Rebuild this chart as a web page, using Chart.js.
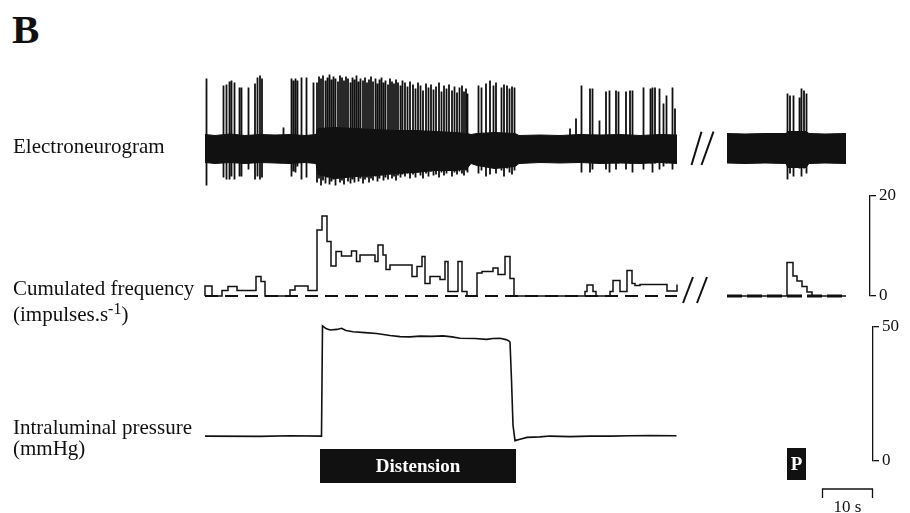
<!DOCTYPE html>
<html><head><meta charset="utf-8">
<script src="https://cdn.jsdelivr.net/npm/chart.js@4.4.1/dist/chart.umd.min.js"></script>
<style>
html,body{margin:0;padding:0;background:#fff;}
#wrap{position:relative;width:910px;height:513px;overflow:hidden;background:#fff;font-family:'Liberation Serif','Times New Roman',serif;color:#111;}
canvas{position:absolute;left:0;}
.lbl{position:absolute;left:13px;font-size:21px;line-height:21px;white-space:nowrap;}
sup{font-size:16px;line-height:0;vertical-align:7px;}
</style></head><body>
<div id="wrap">
<canvas id="cNeuro" width="910" height="145" style="top:60px"></canvas>
<canvas id="cFreq" width="910" height="135" style="top:180px"></canvas>
<canvas id="cPress" width="910" height="203" style="top:310px"></canvas>
<div class="lbl" style="top:9px;left:12px;font-size:41px;line-height:40px;font-weight:bold">B</div>
<div class="lbl" style="top:136px">Electroneurogram</div>
<div class="lbl" style="top:278px">Cumulated frequency</div>
<div class="lbl" style="top:304px">(impulses.s<sup>-1</sup>)</div>
<div class="lbl" style="top:417px">Intraluminal pressure</div>
<div class="lbl" style="top:438px">(mmHg)</div>
</div>
<script>
// ---------------- DATA (time in s) ----------------
// Electroneurogram: background noise band envelope (arbitrary units)
const bandTime1  = [0, 2, 5, 8, 11, 14, 17, 20, 22.2, 22.6, 26, 30, 34, 38, 42, 46, 50, 52.4, 53.2, 54.4, 58, 62.0, 62.8, 67, 71, 75, 79, 83, 87, 91, 94.4];
const bandUpper1 = [14, 13, 14.5, 13, 14, 13.5, 14, 13, 14, 20, 21, 20, 19, 18, 18, 17, 16, 15, 14, 15, 16, 15, 13, 13.5, 13, 14, 13.5, 14, 13, 14, 13.5];
const bandLower1 = [-14, -15, -14, -15, -14, -14.5, -15, -14, -15, -26, -30, -28, -27, -25, -24, -22, -22, -20, -15, -17, -20, -18, -15, -14, -14.5, -14, -15, -14.5, -15, -14, -15];
const bandTime2  = [104.4, 108, 112, 116.2, 116.6, 120.2, 120.8, 124, 128.2];
const bandUpper2 = [15, 14.5, 15, 15, 17, 17, 15, 14.5, 15];
const bandLower2 = [-14.5, -15, -14.5, -15, -19, -19, -15, -14.5, -15];

// Electroneurogram: individual action potentials (time, positive peak, negative peak)
const spikeTimes = [
  0.3, 3.7, 4.3, 4.9, 5.3, 5.9, 6.9, 7.3, 8.7, 10.0, 10.5, 11.0, 11.4, 15.7, 17.3, 17.7, 18.1, 18.5, 19.3, 20.3, 21.7,
  22.4, 22.8, 23.2, 23.6, 24.1, 24.5, 24.9, 25.3, 25.7, 26.1, 26.6, 27.0, 27.4, 27.8, 28.2, 28.6, 29.1, 29.5, 29.9, 30.3, 30.7,
  31.1, 31.6, 32.0, 32.4, 32.8, 33.2, 33.6, 34.1, 34.5, 34.9, 35.3, 35.7, 36.1, 36.6, 37.0, 37.4, 37.8, 38.2, 38.6, 39.1, 39.5,
  40.0, 40.5, 41.0, 41.6, 42.1, 42.6, 43.1, 43.6, 44.2, 44.7, 45.2, 45.7, 46.2, 46.8, 47.3, 47.8, 48.3, 48.8, 49.4, 49.9, 50.4,
  50.9, 51.4, 51.8, 52.2, 52.5,
  54.7, 55.3, 56.2, 57.0, 57.7, 58.2, 59.3, 59.8, 60.4, 60.9, 61.4, 61.9,
  73.0, 74.2, 75.3, 77.0, 77.5, 78.9, 80.2, 80.9, 82.2, 82.7, 84.2, 85.0, 85.5, 87.7, 89.1, 89.5, 90.0, 90.9, 91.7, 92.3, 93.5, 94.0,
  116.5, 117.0, 117.7, 118.9, 119.3, 119.8, 120.3];
const spikeTops = [
  70, 63, 64, 67, 68, 66, 61, 61, 61, 65, 71, 73, 70, 21, 70, 68, 70, 68, 71, 71, 66,
  66, 72, 70, 73, 68, 71, 74, 69, 72, 70, 67, 73, 71, 68, 72, 70, 66, 71, 69, 73, 67,
  70, 68, 71, 66, 69, 72, 67, 70, 65, 69, 71, 66, 68, 64, 70, 67, 65, 69, 66, 63, 68,
  66, 62, 67, 64, 60, 66, 63, 58, 65, 61, 64, 59, 62, 66, 57, 63, 60, 64, 58, 62, 56,
  61, 63, 57, 60, 55,
  63, 61, 65, 68, 63, 66, 61, 64, 63, 60, 62, 61,
  20, 30, 63, 60, 60, 28, 57, 58, 58, 57, 57, 58, 58, 61, 60, 61, 61, 60, 45, 53, 61, 40,
  55, 53, 53, 51, 60, 58, 55];
const spikeBottoms = [
  -37, -29, -31, -31, -28, -31, -28, -28, -21, -31, -28, -31, -29, -2, -28, -23, -24, -18, -31, -29, -14,
  -34, -30, -37, -32, -35, -29, -36, -33, -31, -37, -30, -34, -32, -36, -29, -33, -35, -31, -34, -28, -33,
  -30, -35, -31, -29, -34, -30, -32, -28, -33, -30, -27, -32, -29, -31, -26, -30, -28, -32, -27, -29, -26,
  -28, -25, -30, -26, -29, -24, -27, -30, -25, -28, -23, -27, -26, -29, -24, -27, -25, -22, -28, -24, -26,
  -23, -25, -27, -22, -24,
  -25, -22, -28, -26, -20, -25, -22, -28, -20, -24, -26, -22,
  -2, -3, -24, -24, -21, -5, -21, -24, -21, -15, -21, -15, -24, -21, -15, -24, -15, -21, -18, -15, -21, -12,
  -31, -25, -28, -20, -28, -20, -25];

// Cumulated frequency (impulses/s), value holds from its time to the next time
const freqTime1  = [0, 0, 1.4, 3.4, 4.6, 6.4, 10.2, 11.2, 12.0, 17.0, 18.0, 20.6, 22.4, 23.4, 24.4, 25.2, 26.2, 27.3, 29.3, 30.3, 31.0, 34.0, 34.6, 35.6, 36.2, 37.0, 41.4, 42.4, 43.4, 44.0, 45.0, 47.0, 48.0, 48.6, 50.6, 51.4, 52.4, 54.4, 55.4, 57.6, 58.6, 60.0, 61.0, 61.8, 76.0, 76.4, 77.6, 78.2, 81.0, 81.6, 83.0, 84.4, 85.4, 86.0, 87.0, 92.4, 94.4];
const freqValue1 = [0, 2.0, 0, 1.1, 1.9, 1.1, 3.9, 2.9, 0, 1.2, 2.0, 1.1, 13.2, 16.0, 10.9, 6.0, 8.9, 8.0, 9.0, 6.9, 8.2, 6.9, 10.2, 8.2, 5.3, 6.2, 3.9, 5.9, 7.9, 2.5, 3.9, 3.3, 6.9, 0.9, 6.9, 0.9, 0, 4.6, 4.9, 5.6, 4.3, 7.9, 3.5, 0, 0.9, 2.2, 0.9, 0, 0.9, 3.1, 0.9, 5.1, 2.5, 2.1, 2.3, 1.0, 2.3];
const freqTime2  = [104.4, 116.4, 117.6, 118.4, 119.4, 120.4, 121.4, 128.2];
const freqValue2 = [0, 6.7, 4.0, 3.0, 1.9, 0.8, 0, 0];
const segment1 = [0, 94.4];
const segment2 = [104.4, 128.2];

// Intraluminal pressure (mmHg)
const pressTime  = [0, 11, 17, 23.3, 23.5, 24.2, 25.0, 26.4, 27.3, 28.2, 29.6, 32.0, 34.3, 37.0, 39.0, 41.0, 43.0, 45.4, 47.6, 49.4, 51.0, 54.0, 56.3, 57.6, 59.0, 60.2, 60.7, 61.0, 61.3, 61.6, 62.0, 63.0, 64.4, 67.0, 69.0, 73.0, 77.0, 81.0, 85.0, 89.0, 94.3];
const pressValue = [9.3, 9.2, 9.4, 9.3, 50.4, 49.4, 48.9, 49.1, 49.5, 48.7, 48.2, 47.9, 47.6, 46.8, 46.4, 46.3, 46.6, 46.5, 46.7, 46.3, 45.8, 45.7, 45.4, 45.7, 45.8, 45.3, 44.9, 44.4, 30.2, 13.4, 7.6, 8.1, 8.8, 9.0, 9.3, 9.1, 9.3, 9.3, 9.4, 9.5, 9.4];

// Events
const distension = [23.0, 62.2];
const pinch = [116.4, 120.2];
const scaleBar = [123.5, 10];   // start (s), length (s)
const freqTicks = [0, 20];
const pressTicks = [0, 50];

// ---------------- RENDER ----------------
const INK = '#111';
const SERIF = "'Liberation Serif','Times New Roman',serif";
const LEFT = 205, PXS = 5;
const xmax = r => (r - LEFT) / PXS;
const pts = (xs, ys) => xs.map((x, i) => ({x, y: ys[i]}));

const spikePts = [];
spikeTimes.forEach((t, i) => {
  spikePts.push({x: t, y: spikeBottoms[i]}, {x: t, y: spikeTops[i]}, {x: t, y: null});
});

const breakMarks = {
  id: 'breakMarks',
  afterDatasetsDraw(chart, args, o) {
    const {ctx, scales: {x, y}} = chart;
    ctx.save(); ctx.strokeStyle = INK; ctx.lineWidth = o.width || 2;
    for (const m of (o.marks || [])) {
      ctx.beginPath();
      ctx.moveTo(x.getPixelForValue(m[0]), y.getPixelForValue(m[1]));
      ctx.lineTo(x.getPixelForValue(m[2]), y.getPixelForValue(m[3]));
      ctx.stroke();
    }
    ctx.restore();
  }
};

const eventMarks = {
  id: 'eventMarks',
  afterDatasetsDraw(chart) {
    const {ctx, chartArea, scales: {x}} = chart;
    const b = chartArea.bottom;
    ctx.save();
    ctx.fillStyle = INK;
    const d0 = x.getPixelForValue(distension[0]), d1 = x.getPixelForValue(distension[1]);
    ctx.fillRect(d0, b - 12, d1 - d0, 34);
    const p0 = x.getPixelForValue(pinch[0]), p1 = x.getPixelForValue(pinch[1]);
    ctx.fillRect(p0, b - 13, p1 - p0, 32);
    ctx.fillStyle = '#fff';
    ctx.textAlign = 'center'; ctx.textBaseline = 'middle';
    ctx.font = "bold 19px " + SERIF;
    ctx.fillText('Distension', (d0 + d1) / 2, b + 6);
    ctx.fillText('P', (p0 + p1) / 2, b + 4);
    // time scale bar
    const s0 = x.getPixelForValue(scaleBar[0]), s1 = x.getPixelForValue(scaleBar[0] + scaleBar[1]);
    ctx.strokeStyle = INK; ctx.lineWidth = 1.3;
    ctx.beginPath();
    ctx.moveTo(s0, b + 37); ctx.lineTo(s0, b + 28); ctx.lineTo(s1, b + 28); ctx.lineTo(s1, b + 37);
    ctx.stroke();
    ctx.fillStyle = INK; ctx.textBaseline = 'alphabetic';
    ctx.font = "17px " + SERIF;
    ctx.fillText(scaleBar[1] + ' s', (s0 + s1) / 2, b + 51);
    ctx.restore();
  }
};

const base = {
  responsive: false, animation: false, devicePixelRatio: 1, events: [],
  elements: {point: {radius: 0}, line: {tension: 0, borderColor: INK, borderCapStyle: 'butt'}},
};
const noLegend = {legend: {display: false}, tooltip: {enabled: false}};

function rightAxis(min, max, ticks, width) {
  return {
    position: 'right', min, max,
    afterBuildTicks: s => { s.ticks = ticks.map(v => ({value: v})); },
    afterFit: s => { s.width = width; },
    grid: {display: true, drawOnChartArea: false, drawTicks: true, tickLength: 6, color: INK, lineWidth: 1.3},
    border: {display: true, color: INK, width: 1.3},
    ticks: {color: INK, padding: 3, font: {family: SERIF, size: 17}}
  };
}

// Electroneurogram
new Chart(document.getElementById('cNeuro'), {
  type: 'line',
  data: {datasets: [
    {data: pts(bandTime1, bandUpper1), fill: '+1', backgroundColor: INK, borderWidth: 1, clip: false},
    {data: pts(bandTime1, bandLower1), fill: false, borderWidth: 1, clip: false},
    {data: pts(bandTime2, bandUpper2), fill: '+1', backgroundColor: INK, borderWidth: 1, clip: false},
    {data: pts(bandTime2, bandLower2), fill: false, borderWidth: 1, clip: false},
    {data: spikePts, fill: false, borderWidth: 1.8, spanGaps: false, clip: false}
  ]},
  options: Object.assign({}, base, {
    layout: {padding: {left: LEFT, right: 40, top: 0, bottom: 0}},
    scales: {
      x: {type: 'linear', display: false, min: 0, max: xmax(870)},
      y: {display: false, min: -56.5, max: 88.5}
    },
    plugins: Object.assign({}, noLegend, {breakMarks: {width: 2, marks: [[97.3, -16.5, 99.3, 16.8], [99.3, -16.5, 101.7, 16.8]]}})
  }),
  plugins: [breakMarks]
});

// Cumulated frequency
new Chart(document.getElementById('cFreq'), {
  type: 'line',
  data: {datasets: [
    {data: pts(segment1, [0, 0]), borderWidth: 2, borderDash: [13, 7], clip: false},
    {data: pts(segment2, [0, 0]), borderWidth: 3, borderDash: [15, 5], clip: false},
    {data: pts(freqTime1, freqValue1), stepped: true, borderWidth: 1.5, clip: false},
    {data: pts(freqTime2, freqValue2), stepped: true, borderWidth: 1.5, clip: false}
  ]},
  options: Object.assign({}, base, {
    layout: {padding: {left: LEFT, right: 0, top: 16, bottom: 19}},
    scales: {
      x: {type: 'linear', display: false, min: 0, max: xmax(870)},
      y: rightAxis(0, 20, freqTicks, 40)
    },
    plugins: Object.assign({}, noLegend, {breakMarks: {width: 2, marks: [[95.6, -1.4, 97.6, 3.8], [98.4, -1.4, 100.4, 3.8]]}})
  }),
  plugins: [breakMarks]
});

// Intraluminal pressure
new Chart(document.getElementById('cPress'), {
  type: 'line',
  data: {datasets: [
    {data: pts(pressTime, pressValue), borderWidth: 1.6, clip: false}
  ]},
  options: Object.assign({}, base, {
    layout: {padding: {left: LEFT, right: 0, top: 17, bottom: 52}},
    scales: {
      x: {type: 'linear', display: false, min: 0, max: xmax(873)},
      y: rightAxis(0, 50, pressTicks, 37)
    },
    plugins: noLegend
  }),
  plugins: [eventMarks]
});
</script>
</body></html>
